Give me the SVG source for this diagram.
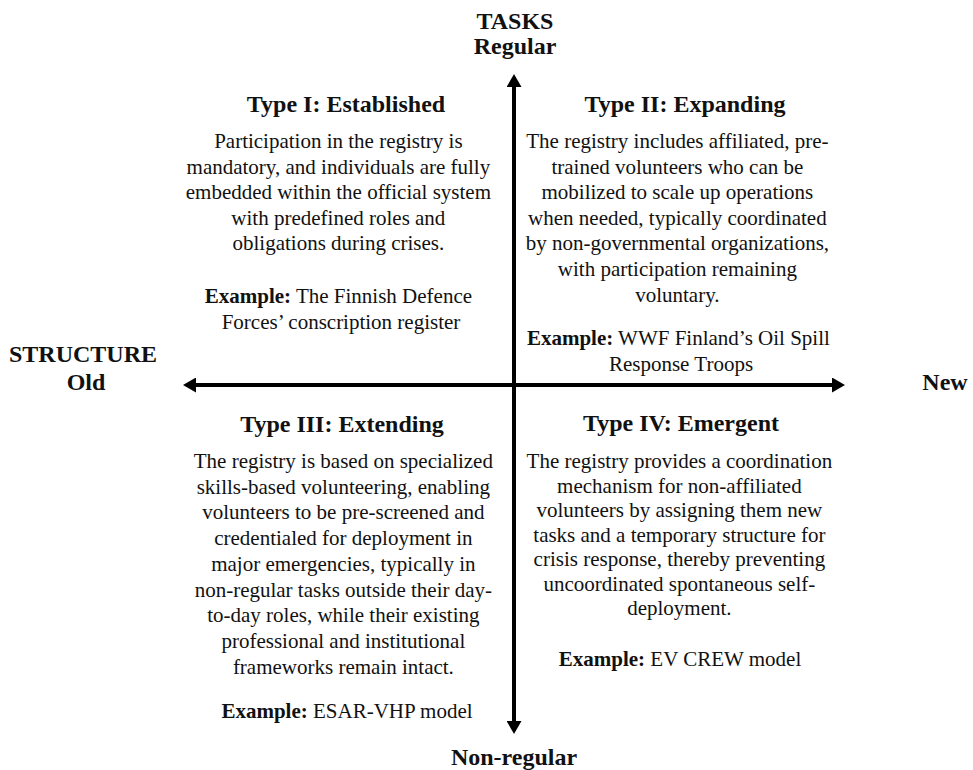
<svg xmlns="http://www.w3.org/2000/svg" width="973" height="770" viewBox="0 0 973 770">
<style>
text{font-family:"Liberation Serif","Times New Roman",serif;fill:#111;text-anchor:middle}
.ax{font-size:24px;font-weight:bold}
.tt{font-size:24px;font-weight:bold}
.bd{font-size:21px}
.b{font-weight:bold}
.axis{stroke:#000;stroke-width:4;fill:none}
</style>
<defs>
<marker id="ah" viewBox="0 0 13 15" markerWidth="13" markerHeight="15" refX="0" refY="7.5" orient="auto-start-reverse" markerUnits="userSpaceOnUse">
<path d="M0,0 L13,7.5 L0,15 z" fill="#000"/>
</marker>
</defs>
<rect width="973" height="770" fill="#fff"/>
<g id="connectors">
<line class="axis" x1="514" y1="87" x2="514" y2="721" marker-start="url(#ah)" marker-end="url(#ah)"/>
<line class="axis" x1="196" y1="385" x2="832" y2="385" marker-start="url(#ah)" marker-end="url(#ah)"/>
</g>
<g id="label-tasks">
<text class="ax" x="515" y="29">TASKS</text>
<text class="ax" x="515" y="54">Regular</text>
</g>
<g id="label-nonregular">
<text class="ax" x="514" y="765">Non-regular</text>
</g>
<g id="label-structure">
<text class="ax" x="83" y="362">STRUCTURE</text>
<text class="ax" x="86" y="390">Old</text>
</g>
<g id="label-new">
<text class="ax" x="945" y="390">New</text>
</g>
<g id="type1">
<text class="tt" x="346" y="112">Type I: Established</text>
<text class="bd">
<tspan x="341" y="148">Participation in the registry is</tspan>
<tspan x="341" y="173.5">mandatory, and individuals are fully</tspan>
<tspan x="341" y="199">embedded within the official system</tspan>
<tspan x="341" y="224.5">with predefined roles and</tspan>
<tspan x="341" y="250">obligations during crises.</tspan>
<tspan x="341" y="303"><tspan class="b">Example:</tspan> The Finnish Defence</tspan>
<tspan x="341" y="328.5">Forces’ conscription register</tspan>
</text>
</g>
<g id="type2">
<text class="tt" x="685" y="112">Type II: Expanding</text>
<text class="bd">
<tspan x="680" y="148">The registry includes affiliated, pre-</tspan>
<tspan x="680" y="173.6">trained volunteers who can be</tspan>
<tspan x="680" y="199.2">mobilized to scale up operations</tspan>
<tspan x="680" y="224.8">when needed, typically coordinated</tspan>
<tspan x="680" y="250.4">by non-governmental organizations,</tspan>
<tspan x="680" y="276">with participation remaining</tspan>
<tspan x="680" y="301.6">voluntary.</tspan>
<tspan x="681" y="345"><tspan class="b">Example:</tspan> WWF Finland’s Oil Spill</tspan>
<tspan x="681" y="370.5">Response Troops</tspan>
</text>
</g>
<g id="type3">
<text class="tt" x="342" y="432">Type III: Extending</text>
<text class="bd">
<tspan x="346" y="468">The registry is based on specialized</tspan>
<tspan x="346" y="493.7">skills-based volunteering, enabling</tspan>
<tspan x="346" y="519.4">volunteers to be pre-screened and</tspan>
<tspan x="346" y="545.1">credentialed for deployment in</tspan>
<tspan x="346" y="570.8">major emergencies, typically in</tspan>
<tspan x="346" y="596.5">non-regular tasks outside their day-</tspan>
<tspan x="346" y="622.2">to-day roles, while their existing</tspan>
<tspan x="346" y="647.9">professional and institutional</tspan>
<tspan x="346" y="673.6">frameworks remain intact.</tspan>
<tspan x="347" y="718"><tspan class="b">Example:</tspan> ESAR-VHP model</tspan>
</text>
</g>
<g id="type4">
<text class="tt" x="681" y="431">Type IV: Emergent</text>
<text class="bd">
<tspan x="682" y="468">The registry provides a coordination</tspan>
<tspan x="682" y="492.5">mechanism for non-affiliated</tspan>
<tspan x="682" y="517">volunteers by assigning them new</tspan>
<tspan x="682" y="541.5">tasks and a temporary structure for</tspan>
<tspan x="682" y="566">crisis response, thereby preventing</tspan>
<tspan x="682" y="590.5">uncoordinated spontaneous self-</tspan>
<tspan x="682" y="615">deployment.</tspan>
<tspan x="680" y="666"><tspan class="b">Example:</tspan> EV CREW model</tspan>
</text>
</g>
</svg>
